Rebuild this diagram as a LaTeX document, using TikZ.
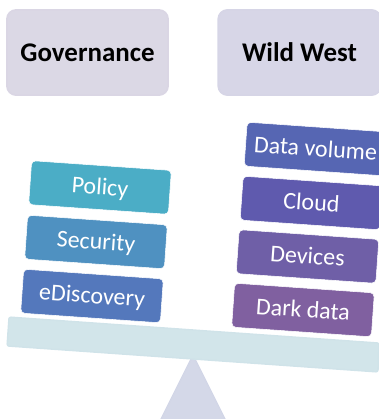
\documentclass[tikz,border=0pt]{standalone}
\usepackage{fontspec}
\setmainfont{Carlito}
\definecolor{govfill}{HTML}{DBD8E5}
\definecolor{govline}{HTML}{DAD6E4}
\definecolor{wildfill}{HTML}{D7D6E7}
\definecolor{wildline}{HTML}{D6D5E6}
\definecolor{beamfill}{HTML}{D2E5EA}
\definecolor{beamline}{HTML}{D0E3E9}
\definecolor{pivotfill}{HTML}{D4D8E8}
\definecolor{pivotline}{HTML}{D2D6E7}
\definecolor{cPolicy}{HTML}{4BADC6}
\definecolor{cSecurity}{HTML}{4F91C1}
\definecolor{cDiscovery}{HTML}{5478BC}
\definecolor{cVolume}{HTML}{5666B3}
\definecolor{cCloud}{HTML}{5F5AAE}
\definecolor{cDevices}{HTML}{6F5FA7}
\definecolor{cDark}{HTML}{8060A0}
\tikzset{
  header/.style={rounded corners=7pt,line width=1.2pt,minimum width=121pt,minimum height=64pt,
    inner sep=0pt,font=\fontsize{20.2}{22}\selectfont\bfseries,text=black},
  weight/.style={fill=#1,draw=white,line width=.4pt,rounded corners=3pt,rotate=-4,
    minimum width=105pt,minimum height=33pt,inner sep=0pt,text=white,
    text height=13pt,text depth=2pt,font=\fontsize{18}{20}\selectfont},
}
\begin{document}
\begin{tikzpicture}[x=0.75pt,y=-0.75pt]
\useasboundingbox (0,0) rectangle (379,419);
\clip (0,0) rectangle (379,419);
\node[header,fill=govfill,draw=govline] (gov) at (87.5,52.5) {Governance};
\node[header,fill=wildfill,draw=wildline,minimum width=122pt] (wild) at (299.5,52.5) {Wild West};
\draw[fill=pivotfill,draw=pivotline,line width=1pt,line join=round] (193,355) -- (228,425) -- (158,425) -- cycle;
\draw[fill=beamfill,draw=beamline,line width=1pt,rounded corners=1.5pt] (9,317) -- (379,343) -- (378,372) -- (7,346) -- cycle;
\node[weight=cPolicy] (policy) at (100,187.5) {Policy};
\node[weight=cSecurity] (security) at (96,242) {Security};
\node[weight=cDiscovery] (ediscovery) at (92,296) {eDiscovery};
\node[weight=cVolume] (volume) at (315.5,149) {Data volume};
\node[weight=cCloud] (cloud) at (311.5,203) {Cloud};
\node[weight=cDevices] (devices) at (307.5,256.5) {Devices};
\node[weight=cDark] (dark) at (303,310) {Dark data};
\end{tikzpicture}
\end{document}
